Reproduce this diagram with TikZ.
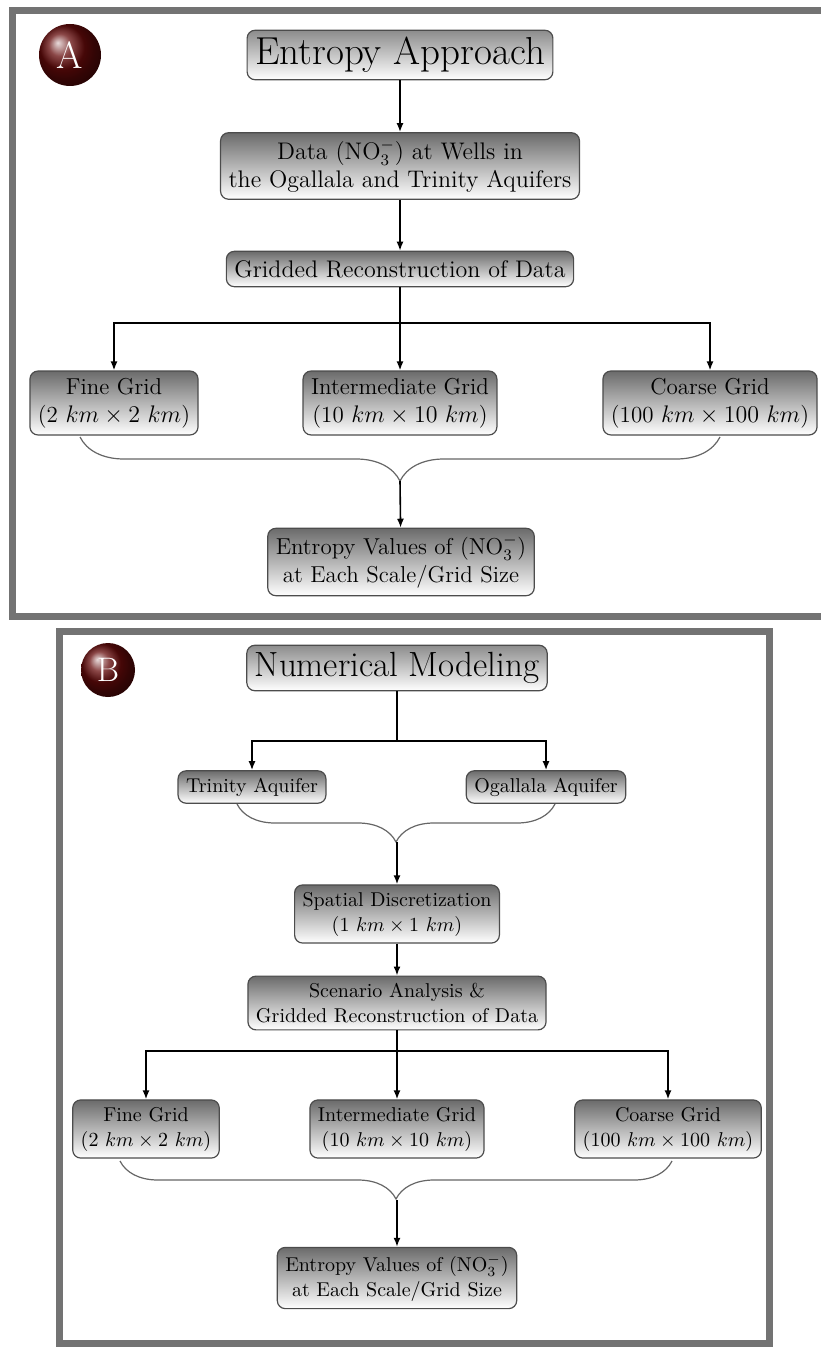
\documentclass[tikz,border=0pt]{standalone}
\usepackage{amsmath}
\usetikzlibrary{arrows.meta,shapes,decorations.pathreplacing}
\definecolor{BallRed}{RGB}{100,10,10}

\tikzset{
  box/.style={draw=black!70, line width=0.6pt, rounded corners=4pt,
    top color=black!58, bottom color=white, align=center,
    inner xsep=4pt, inner ysep=3.5pt},
  boxA/.style={box, font=\fontsize{11.5}{14}\selectfont},
  boxB/.style={box, font=\fontsize{10}{12.5}\selectfont},
  headA/.style={box, top color=black!45, font=\fontsize{19.5}{23}\selectfont},
  headB/.style={box, top color=black!45, font=\fontsize{17.5}{21}\selectfont},
  ball/.style={circle, shading=ball, ball color=BallRed, text=white,
    inner sep=0pt},
  frame/.style={draw=black!55, line width=3.5pt},
  arr/.style={-{Latex[length=4.5pt,width=3.5pt]}, line width=0.8pt},
  link/.style={line width=0.8pt},
  brc/.style={draw=black!60, line width=0.6pt, decorate,
    decoration={brace, mirror, amplitude=#1}},
}

\begin{document}
\begin{tikzpicture}[x=0.5pt, y=-0.5pt]
\useasboundingbox (0,0) rectangle (820,1347);

% ---- panel A
\draw[frame] (12,11) rectangle (830,616);
\node[ball, minimum size=31pt, font=\fontsize{19}{19}\selectfont] (ballA) at (70,55) {A};
\node[headA] (titleA) at (400,55) {Entropy Approach};
\node[boxA, font=\fontsize{12}{14}\selectfont] (dataA) at (400,166) {Data (NO$_3^-$) at Wells in\\the Ogallala and Trinity Aquifers};
\node[boxA, font=\fontsize{12}{14}\selectfont, inner ysep=4.5pt] (gridA) at (400,269) {Gridded Reconstruction of Data};
\node[boxA] (fineA) at (114,403) {Fine Grid\\(2 $km \times 2$ $km$)};
\node[boxA] (interA) at (400,403) {Intermediate Grid\\(10 $km \times 10$ $km$)};
\node[boxA] (coarseA) at (710,403) {Coarse Grid\\(100 $km \times 100$ $km$)};
\node[boxA] (entA) at (401,562) {Entropy Values of (NO$_3^-$)\\at Each Scale/Grid Size};

\coordinate (splitA) at (400,323);
\coordinate (bAl) at (80,437);
\coordinate (bAr) at (720,437);
\coordinate (tipA) at (400,481);

\draw[arr] (titleA) -- (dataA);
\draw[arr] (dataA) -- (gridA);
\draw[arr] (gridA) -- (interA);
\draw[arr] (splitA) -| (fineA);
\draw[arr] (splitA) -| (coarseA);
\draw[brc=22pt] (bAl) -- (bAr);
\draw[arr] (tipA) -- (entA);

% ---- panel B
\draw[frame] (59,631) rectangle (769,1343);
\node[ball, minimum size=27pt, font=\fontsize{17}{17}\selectfont] (ballB) at (108,670) {B};
\node[headB] (titleB) at (397,668) {Numerical Modeling};
\node[boxB] (trinB) at (252,787) {Trinity Aquifer};
\node[boxB] (ogaB) at (546,787) {Ogallala Aquifer};
\node[boxB] (spatB) at (397,914) {Spatial Discretization\\(1 $km \times 1$ $km$)};
\node[boxB] (scenB) at (397,1003) {Scenario Analysis \&\\Gridded Reconstruction of Data};
\node[boxB] (fineB) at (146,1129) {Fine Grid\\(2 $km \times 2$ $km$)};
\node[boxB] (interB) at (397,1129) {Intermediate Grid\\(10 $km \times 10$ $km$)};
\node[boxB] (coarseB) at (668,1129) {Coarse Grid\\(100 $km \times 100$ $km$)};
\node[boxB] (entB) at (397,1278) {Entropy Values of (NO$_3^-$)\\at Each Scale/Grid Size};

\coordinate (splitB) at (397,741);
\coordinate (bBl) at (237,804);
\coordinate (bBr) at (555,804);
\coordinate (tipB) at (397,842);
\coordinate (splitC) at (397,1051);
\coordinate (bCl) at (120,1161);
\coordinate (bCr) at (672,1161);
\coordinate (tipC) at (397,1200);

\draw[link] (titleB) -- (splitB);
\draw[arr] (splitB) -| (trinB);
\draw[arr] (splitB) -| (ogaB);
\draw[brc=19pt] (bBl) -- (bBr);
\draw[arr] (tipB) -- (spatB);
\draw[arr] (spatB) -- (scenB);
\draw[arr] (scenB) -- (interB);
\draw[arr] (splitC) -| (fineB);
\draw[arr] (splitC) -| (coarseB);
\draw[brc=19pt] (bCl) -- (bCr);
\draw[arr] (tipC) -- (entB);
\end{tikzpicture}
\end{document}
